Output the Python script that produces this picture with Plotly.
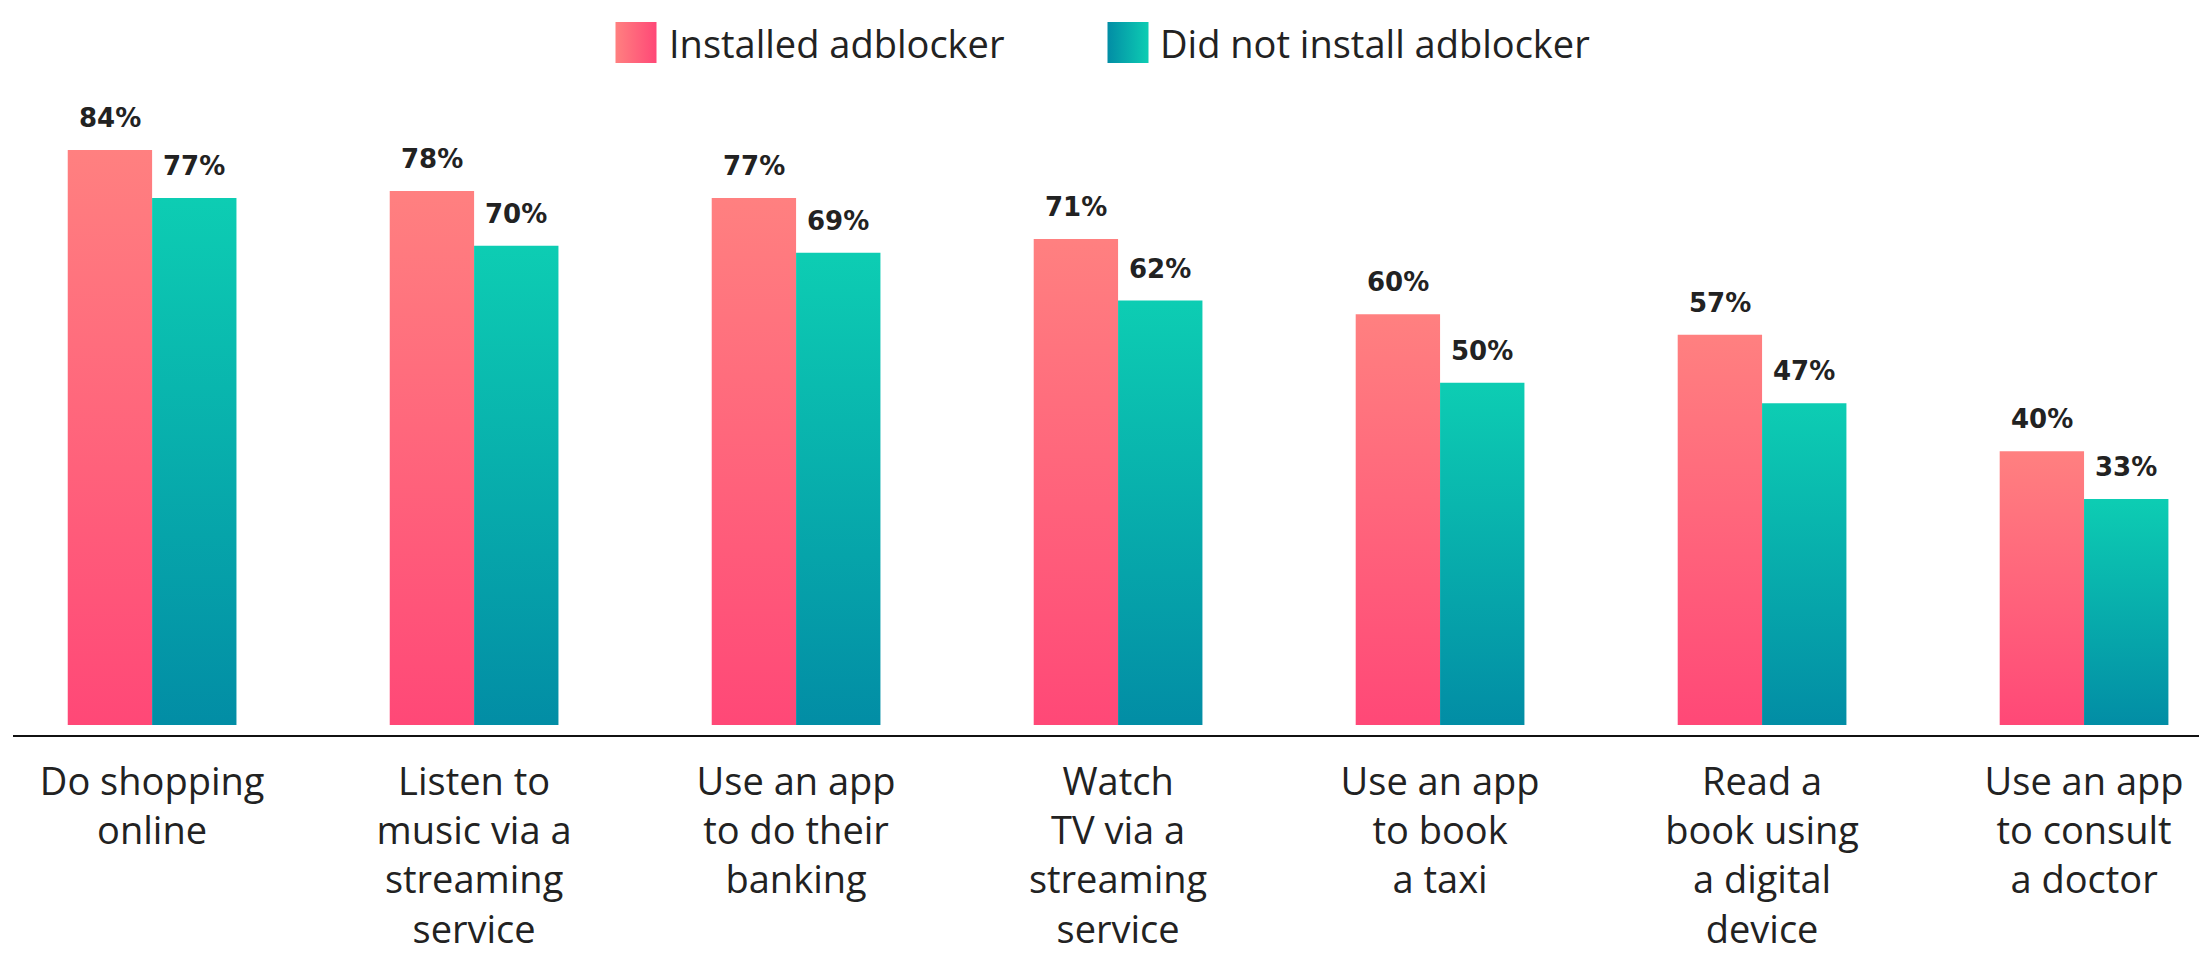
import plotly.graph_objects as go

# Share of respondents who do each activity, split by adblocker use
categories = [
    "Do shopping<br>online",
    "Listen to<br>music via a<br>streaming<br>service",
    "Use an app<br>to do their<br>banking",
    "Watch<br>TV via a<br>streaming<br>service",
    "Use an app<br>to book<br>a taxi",
    "Read a<br>book using<br>a digital<br>device",
    "Use an app<br>to consult<br>a doctor",
]
installed = [84, 78, 77, 71, 60, 57, 40]
not_installed = [77, 70, 69, 62, 50, 47, 33]
series_names = ["Installed adblocker", "Did not install adblocker"]

PINK_TOP, PINK_BOTTOM = "#FF8080", "#FF4877"
TEAL_TOP, TEAL_BOTTOM = "#0DCDB3", "#028DA5"
TEXT = "#222222"
FONT = "Open Sans"
LABEL_FONT = "DejaVu Sans"
BAR_W = 0.262

W, H = 2199, 953
M_L, M_B = 13, 218
PLOT_H = H - M_B          # plot area runs from the top of the page to the axis line
BARS_TOP = 100            # pixel row where the bar axis domain ends

fig = go.Figure()


def add_bar(x0, x1, value, top, bottom):
    """A bar as a filled polygon so it can carry a vertical gradient."""
    fig.add_trace(go.Scatter(
        x=[x0, x1, x1, x0, x0],
        y=[0, 0, value, value, 0],
        mode="none",
        fill="toself",
        fillgradient=dict(type="vertical",
                          colorscale=[[0, bottom], [1, top]]),
        hoverinfo="skip",
        showlegend=False,
    ))


for i, (a, b) in enumerate(zip(installed, not_installed)):
    add_bar(i - BAR_W, i, a, PINK_TOP, PINK_BOTTOM)
    add_bar(i, i + BAR_W, b, TEAL_TOP, TEAL_BOTTOM)
    for xc, v in [(i - BAR_W / 2, a), (i + BAR_W / 2, b)]:
        fig.add_annotation(x=xc, y=v, text=f"<b>{v}%</b>",
                           showarrow=False, yanchor="bottom", yshift=15,
                           font=dict(family=LABEL_FONT, size=26, color=TEXT))

# Legend: gradient square swatches plus text, laid out on a pixel-scaled overlay axis
legend_swatch_x = [636, 1128]
legend_text_x = [667, 1158]
legend_y = 42.5
swatch_colors = [(PINK_TOP, PINK_BOTTOM), (TEAL_BOTTOM, TEAL_TOP)]
for name, sx, tx, (left, right) in zip(series_names, legend_swatch_x,
                                       legend_text_x, swatch_colors):
    fig.add_trace(go.Scatter(
        x=[sx], y=[legend_y], mode="markers", xaxis="x2", yaxis="y2",
        marker=dict(symbol="square", size=41, color=left,
                    gradient=dict(type="horizontal", color=right),
                    line=dict(width=0)),
        hoverinfo="skip", showlegend=False, cliponaxis=False,
    ))
    fig.add_annotation(x=tx, y=legend_y, xref="x2", yref="y2", text=name,
                       showarrow=False, xanchor="left", yanchor="middle",
                       font=dict(family=FONT, size=38, color=TEXT))

fig.update_layout(
    width=W, height=H,
    margin=dict(l=M_L, r=0, t=0, b=M_B),
    paper_bgcolor="white", plot_bgcolor="rgba(0,0,0,0)",
    font=dict(family=FONT, color=TEXT),
    showlegend=False,
    xaxis=dict(
        range=[-0.432, 6.357],
        tickmode="array", tickvals=list(range(len(categories))),
        ticktext=categories, ticks="", showgrid=False, zeroline=False,
        showline=True, linecolor="#111111", linewidth=2,
        tickfont=dict(family=FONT, size=38, color=TEXT),
        ticklabelstandoff=12,
    ),
    yaxis=dict(range=[-1.46, 91.3], domain=[0, (PLOT_H - BARS_TOP) / PLOT_H],
               visible=False, showgrid=False, zeroline=False),
    xaxis2=dict(range=[M_L, W], domain=[0, 1], anchor="y2", visible=False,
                showgrid=False, zeroline=False),
    yaxis2=dict(range=[PLOT_H, 0], domain=[0, 1], anchor="x2", visible=False,
                showgrid=False, zeroline=False),
)

fig.write_html("out.html")
